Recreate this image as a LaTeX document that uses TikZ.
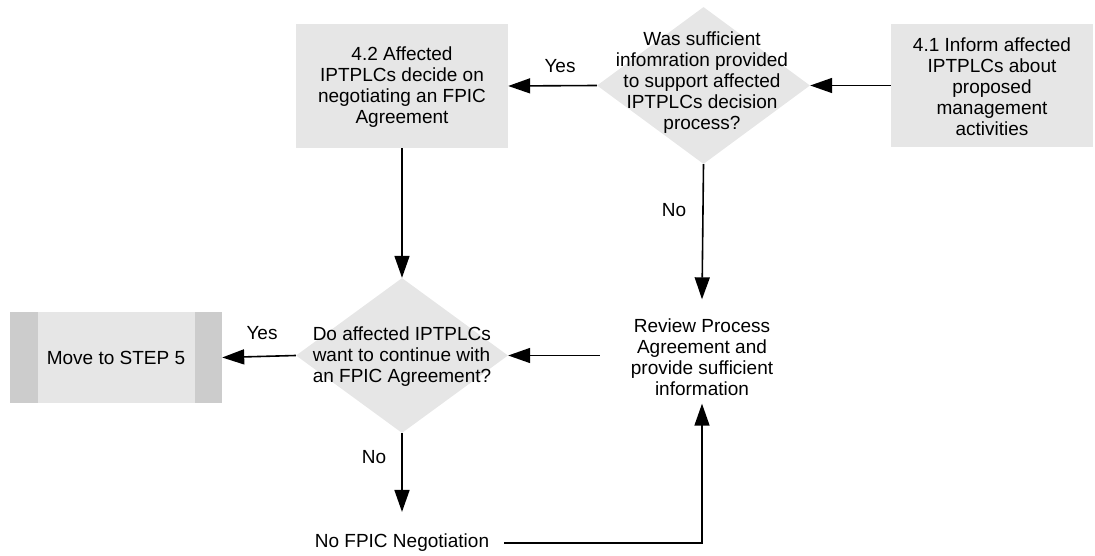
\documentclass[tikz,border=0pt]{standalone}
\usepackage{fontspec}
\setmainfont{Liberation Sans}
\usetikzlibrary{shapes.geometric,arrows.meta}
\definecolor{boxgray}{HTML}{E6E6E6}
\definecolor{bargray}{HTML}{CCCCCC}
\begin{document}
\begin{tikzpicture}[x=1pt,y=1pt,
  every node/.style={font=\fontsize{19}{21}\selectfont},
  procbox/.style={rectangle, fill=boxgray, align=center, inner sep=0},
  decision/.style={diamond, fill=boxgray, inner sep=0},
  plain/.style={align=center, inner sep=0},
  flow/.style={line width=1.6pt, -{Triangle[length=22pt,width=15pt]}},
  lbl/.style={inner sep=0}]
\useasboundingbox (0,0) rectangle (1095,555);

% process boxes
\node[procbox, minimum width=212pt, minimum height=124pt] (b42) at (402,469) {};
\node[plain] (t42) at (402,468) {4.2 Affected\\IPTPLCs decide on\\negotiating an FPIC\\Agreement};
\node[procbox, minimum width=202pt, minimum height=123pt] (b41) at (992,469.5) {};
\node[plain] (t41) at (992,468) {4.1 Inform affected\\IPTPLCs about\\proposed\\management\\activities};

% decisions
\node[decision, minimum width=213pt, minimum height=157pt] (d1) at (703.5,469.5) {};
\node[plain] (t1) at (702,472) {Was sufficient\\infomration provided\\to support affected\\IPTPLCs decision\\process?};
\node[decision, minimum width=212pt, minimum height=155pt] (d2) at (402,199.5) {};
\node[plain, align=left] (t2) at (402,198) {Do affected IPTPLCs\\want to continue with\\an FPIC Agreement?};

% terminal box
\node[procbox, minimum width=212pt, minimum height=91pt,
  path picture={
    \fill[bargray] (path picture bounding box.north west) rectangle ([xshift=28pt]path picture bounding box.south west);
    \fill[bargray] ([xshift=-27pt]path picture bounding box.north east) rectangle (path picture bounding box.south east);
  }] (move) at (116,197.5) {Move to STEP 5};

% plain text nodes
\node[plain, inner xsep=31pt, inner ysep=8pt] (review) at (702,198) {Review Process\\Agreement and\\provide sufficient\\information};
\node[plain, inner xsep=15pt, inner ysep=0pt] (nofpic) at (402,12) {No FPIC Negotiation};

% labels
\node[lbl] (yes1) at (560,489) {Yes};
\node[lbl] (no1) at (674,345) {No};
\node[lbl] (yes2) at (262,222) {Yes};
\node[lbl] (no2) at (374,98) {No};

% connectors
\draw[flow] (b41.west) -- (d1.east);
\draw[flow] (d1.west) -- (b42.east);
\draw[flow] (b42.south) -- (d2.north);
\draw[flow] (d1.south) -- ([yshift=11pt]review.north);
\draw[flow] (review.west |- d2.east) -- (d2.east);
\draw[flow] (d2.west) -- (move.east);
\draw[flow] (d2.south) -- ([yshift=22pt]nofpic.north);
\draw[flow] (nofpic.east) -| (review.south);
\end{tikzpicture}
\end{document}
